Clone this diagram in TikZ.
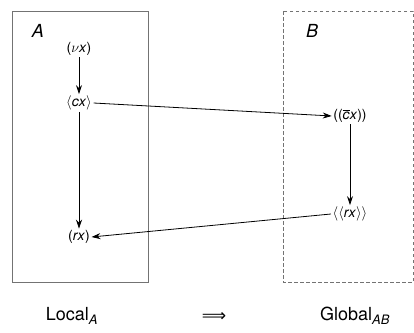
\documentclass[tikz,border=0pt]{standalone}
\usepackage{fontspec}
\setmainfont{TeX Gyre Heros}
\newfontfamily\symfont{DejaVu Sans}
\usetikzlibrary{arrows.meta}
\newcommand{\mv}[1]{\textit{#1}}
\begin{document}
\begin{tikzpicture}[x=1pt,y=-1pt,
  frame/.style={draw=black!55, line width=0.7pt},
  term/.style={inner sep=1.5pt, font=\fontsize{14}{16}\selectfont},
  lbl/.style={inner sep=0pt, font=\fontsize{18}{20}\selectfont\itshape},
  captext/.style={inner sep=0pt, font=\fontsize{18}{20}\selectfont},
  arr/.style={-{Stealth[length=9pt,width=6pt]}, line width=0.8pt}]
\useasboundingbox (0,0) rectangle (414,332);
% the two sites
\draw[frame] (12,11) rectangle (148,282);
\draw[frame, dashed, dash pattern=on 3.5pt off 2.5pt] (283,11) rectangle (413,282);
\node[lbl] (la) at (38,31) {A};
\node[lbl] (lb) at (312,31) {B};
% terms in site A
\node[term] (nu) at (79,49) {($\nu$\mv{x})};
\node[term] (cx) at (79,103) {$\langle$\mv{cx}$\rangle$};
\node[term] (rx) at (79,237) {(\mv{rx})};
% terms in site B
\node[term] (bc) at (350,116) {(($\overline{\mbox{\mv{c}}}$\mv{x}))};
\node[term] (rr) at (350,214) {$\langle\langle$\mv{rx}$\rangle\rangle$};
% transitions
\draw[arr] (nu) -- (cx);
\draw[arr] (cx) -- (rx);
\draw[arr] (cx.east) -- (bc.west);
\draw[arr] (bc) -- (rr);
\draw[arr] (rr.west) -- (rx.east);
% captions
\node[captext] (loc) at (72,316) {Local$_{\mbox{\fontsize{13}{14}\selectfont\itshape A}}$};
\node[captext] (imp) at (214,317) {{\symfont\fontsize{17}{18}\selectfont ⟹}};
\node[captext] (glo) at (355,316) {Global$_{\mbox{\fontsize{13}{14}\selectfont\itshape AB}}$};
\end{tikzpicture}
\end{document}
